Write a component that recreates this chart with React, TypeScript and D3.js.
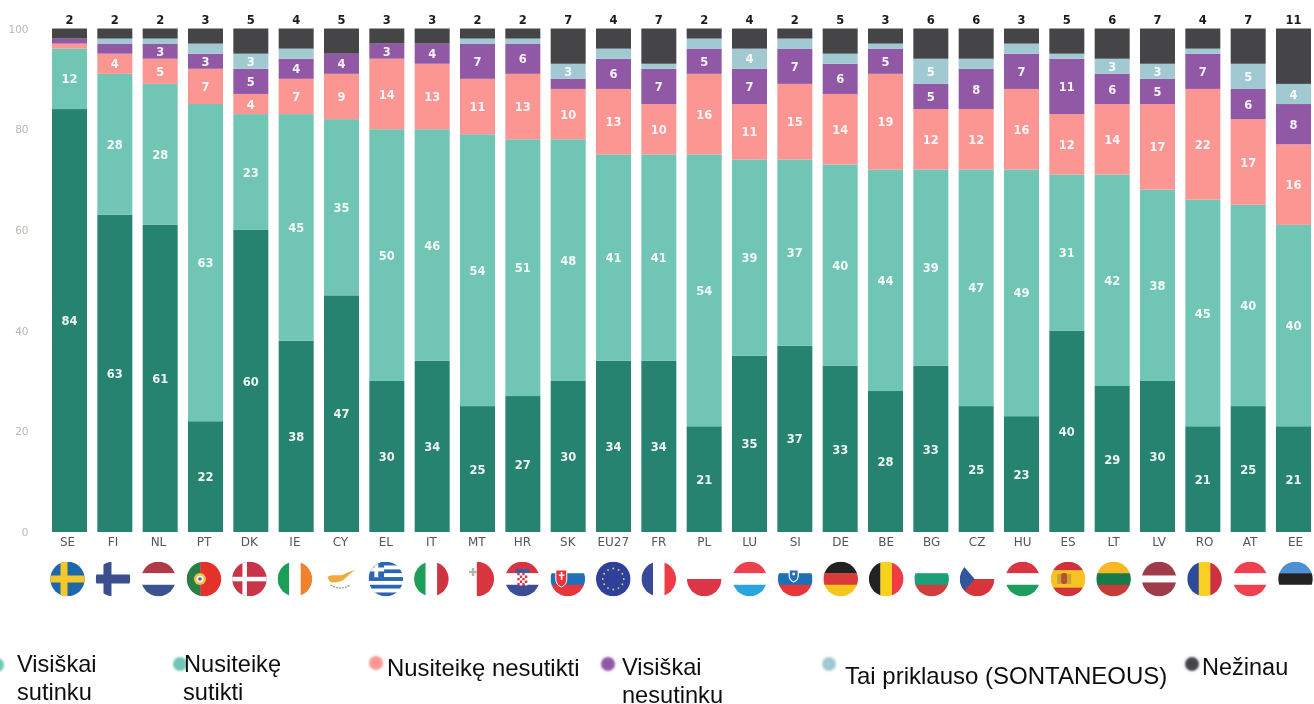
import React from "react";
import * as d3 from "d3";

const countries = ["SE","FI","NL","PT","DK","IE","CY","EL","IT","MT","HR","SK","EU27","FR","PL","LU","SI","DE","BE","BG","CZ","HU","ES","LT","LV","RO","AT","EE"];
const totallyAgree = [84,63,61,22,60,38,47,30,34,25,27,30,34,34,21,35,37,33,28,33,25,23,40,29,30,21,25,21];
const tendAgree = [12,28,28,63,23,45,35,50,46,54,51,48,41,41,54,39,37,40,44,39,47,49,31,42,38,45,40,40];
const tendDisagree = [1,4,5,7,4,7,9,14,13,11,13,10,13,10,16,11,15,14,19,12,12,16,12,14,17,22,17,16];
const totallyDisagree = [1,2,3,3,5,4,4,3,4,7,6,2,6,7,5,7,7,6,5,5,8,7,11,6,5,7,6,8];
const notApplicable = [0,1,1,2,3,2,0,0,0,1,1,3,2,1,2,4,2,2,1,5,2,2,1,3,3,1,5,4];
const dontKnow = [2,2,2,3,5,4,5,3,3,2,2,7,4,7,2,4,2,5,3,6,6,3,5,6,7,4,7,11];
const yTicks = [0,20,40,60,80,100];

const seriesKeys = ["a","b","c","d","e","f"];
const seriesValues: number[][] = [totallyAgree,tendAgree,tendDisagree,totallyDisagree,notApplicable,dontKnow];
const colors = ["#26836f","#70c5b5","#fb9693","#9159a5","#a1c9d2","#454447"];

const rows = countries.map((c,i)=>{
  const r: any = {c};
  seriesKeys.forEach((k,j)=>{ r[k]=seriesValues[j][i]; });
  return r;
});
const stacked = d3.stack<any>().keys(seriesKeys)(rows);

const x = d3.scaleBand<string>().domain(countries).range([52,1311]).paddingInner(0.228);
const y = d3.scaleLinear().domain([0,100]).range([532,28.5]);
// Category labels and flags sit on a slightly wider spread than the bars.
const xFlag = d3.scalePoint<string>().domain(countries).range([67.5,1295.5]);

const CHART_FONT = "'DejaVu Sans', sans-serif";
const LEGEND_FONT = "'Liberation Sans', Arial, sans-serif";

type Stripe = [string, number];
const hFlags: Record<string, Stripe[]> = {
  NL:[["#ae3b48",1],["#fff",1],["#3d5390",1]],
  HR:[["#d8343f",1],["#fff",1],["#3a4d94",1]],
  SK:[["#fff",1],["#2270b8",1],["#e8363a",1]],
  PL:[["#fff",1],["#dc3545",1]],
  LU:[["#ef4050",1],["#fff",1],["#2aa5df",1]],
  SI:[["#fff",1],["#1f6fb5",1],["#e8363a",1]],
  DE:[["#222222",1],["#d93a3a",1],["#f5c71f",1]],
  BG:[["#fff",1],["#1f9e78",1],["#d03c3c",1]],
  HU:[["#d8343f",1],["#fff",1],["#1f9e5e",1]],
  ES:[["#cf3138",1],["#f7c221",2],["#cf3138",1]],
  LT:[["#f7b824",1],["#157a4b",1],["#c93a3a",1]],
  LV:[["#a03a48",2],["#fff",1],["#a03a48",2]],
  AT:[["#ef4050",1],["#fff",1],["#ef4050",1]],
  EE:[["#4f8fd4",1],["#222222",1],["#fff",1]],
  EL:[["#2a66b4",1],["#fff",1],["#2a66b4",1],["#fff",1],["#2a66b4",1],["#fff",1],["#2a66b4",1],["#fff",1],["#2a66b4",1]],
};
const vFlags: Record<string, Stripe[]> = {
  IE:[["#1f9e56",1],["#fff",1],["#f0822d",1]],
  IT:[["#1f9e56",1],["#fff",1],["#cf3341",1]],
  FR:[["#3a4a9a",1],["#fff",1],["#ee3b44",1]],
  BE:[["#222222",1],["#f7d21f",1],["#ee3b44",1]],
  RO:[["#2f4a9a",1],["#fbd021",1],["#ce3340",1]],
  MT:[["#fff",1],["#d8343f",1]],
  PT:[["#2a7d47",2],["#e4312b",3]],
};

function Flag({code, cx, cy, r}: {code:string; cx:number; cy:number; r:number}) {
  const id = `clip-${code}`;
  const d = 2*r;
  const parts: React.ReactNode[] = [];
  if (hFlags[code]) {
    const st = hFlags[code];
    const sc = d3.scaleLinear().domain([0,d3.sum(st,s=>s[1])]).range([cy-r,cy+r]);
    let acc = 0;
    st.forEach(([col,w],i)=>{
      parts.push(<rect key={i} x={cx-r} y={sc(acc)} width={d} height={sc(acc+w)-sc(acc)+0.3} fill={col}/>);
      acc += w;
    });
  }
  if (vFlags[code]) {
    const st = vFlags[code];
    const sc = d3.scaleLinear().domain([0,d3.sum(st,s=>s[1])]).range([cx-r,cx+r]);
    let acc = 0;
    st.forEach(([col,w],i)=>{
      parts.push(<rect key={i} x={sc(acc)} y={cy-r} width={sc(acc+w)-sc(acc)+0.3} height={d} fill={col}/>);
      acc += w;
    });
  }
  const extra: React.ReactNode[] = [];
  if (code==="SE") {
    parts.push(<rect key="b" x={cx-r} y={cy-r} width={d} height={d} fill="#1f68a8"/>);
    parts.push(<rect key="v" x={cx-7} y={cy-r} width={7} height={d} fill="#f5c72b"/>);
    parts.push(<rect key="h" x={cx-r} y={cy-3.5} width={d} height={7} fill="#f5c72b"/>);
  }
  if (code==="FI") {
    parts.push(<rect key="v" x={cx-9.5} y={cy-r} width={8} height={d} fill="#3a4f8f"/>);
    parts.push(<rect key="h" x={cx-r} y={cy-4.5} width={d} height={9} fill="#3a4f8f"/>);
  }
  if (code==="DK") {
    parts.push(<rect key="b" x={cx-r} y={cy-r} width={d} height={d} fill="#c8344a"/>);
    parts.push(<rect key="v" x={cx-7} y={cy-r} width={4.5} height={d} fill="#fff"/>);
    parts.push(<rect key="h" x={cx-r} y={cy-2.2} width={d} height={4.5} fill="#fff"/>);
  }
  if (code==="EU27") {
    parts.push(<rect key="b" x={cx-r} y={cy-r} width={d} height={d} fill="#2f3f9b"/>);
    d3.range(12).forEach(i=>{
      const a = i/12*2*Math.PI;
      extra.push(<circle key={i} cx={cx+10.5*Math.cos(a)} cy={cy+10.5*Math.sin(a)} r={0.9} fill="#e8d44a"/>);
    });
  }
  if (code==="CZ") {
    parts.push(<rect key="r" x={cx-r} y={cy} width={d} height={r} fill="#d8343a"/>);
    parts.push(<path key="t" d={`M${cx-r},${cy-r}L${cx-2.5},${cy}L${cx-r},${cy+r}Z`} fill="#2f579c"/>);
  }
  if (code==="CY") {
    extra.push(<path key="i" d={`M${cx-13},${cy-2}C${cx-8},${cy-5} ${cx-2},${cy-3} ${cx+2},${cy-4}C${cx+6},${cy-6} ${cx+10},${cy-8} ${cx+15},${cy-9}C${cx+10},${cy-6} ${cx+7},${cy-3} ${cx+3},${cy+1}C${cx-1},${cy+3} ${cx-8},${cy+5} ${cx-11},${cy+2}Z`} fill="#f2a93b"/>);
    extra.push(<path key="g" d={`M${cx-10},${cy+6}Q${cx},${cy+12} ${cx+10},${cy+6}`} fill="none" stroke="#8aa888" strokeWidth={1.4} strokeDasharray="2 1"/>);
  }
  if (code==="EL") {
    extra.push(<rect key="c" x={cx-r} y={cy-r} width={15.5} height={15.5} fill="#2a66b4"/>);
    extra.push(<rect key="c1" x={cx-r+5.8} y={cy-r} width={3.9} height={15.5} fill="#fff"/>);
    extra.push(<rect key="c2" x={cx-r} y={cy-r+5.8} width={15.5} height={3.9} fill="#fff"/>);
  }
  if (code==="PT") {
    extra.push(<circle key="s1" cx={cx-4} cy={cy} r={6} fill="#eec341"/>);
    extra.push(<circle key="s2" cx={cx-4} cy={cy} r={3.5} fill="#f4f1e6"/>);
    extra.push(<circle key="s3" cx={cx-4} cy={cy} r={1.8} fill="#4a62a8"/>);
  }
  if (code==="MT") {
    extra.push(<rect key="m1" x={cx-5} y={cy-11} width={2.4} height={8} fill="#b9b3b3"/>);
    extra.push(<rect key="m2" x={cx-7.8} y={cy-8.2} width={8} height={2.4} fill="#b9b3b3"/>);
  }
  if (code==="HR") {
    const g: React.ReactNode[] = [];
    d3.range(5).forEach(i=>d3.range(4).forEach(j=>{
      g.push(<rect key={`${i}-${j}`} x={cx-5+j*2.5} y={cy-6+i*2.5} width={2.5} height={2.5} fill={(i+j)%2? "#fff":"#d8343f"}/>);
    }));
    extra.push(<g key="chk"><rect x={cx-7} y={cy-10} width={14} height={4} fill="#3a5aa8"/>{g}</g>);
  }
  if (code==="SK") {
    extra.push(<path key="s" d={`M${cx-12},${cy-9}h11v9q0,6 -5.5,8q-5.5,-2 -5.5,-8Z`} fill="#e8363a" stroke="#fff" strokeWidth={1}/>);
    extra.push(<rect key="sa" x={cx-7} y={cy-7} width={1.6} height={8} fill="#fff"/>);
    extra.push(<rect key="sb" x={cx-9} y={cy-4.5} width={5.6} height={1.5} fill="#fff"/>);
  }
  if (code==="SI") {
    extra.push(<path key="s" d={`M${cx-6},${cy-9}h9v6q0,4 -4.5,6q-4.5,-2 -4.5,-6Z`} fill="#2270b8" stroke="#fff" strokeWidth={1.2}/>);
    extra.push(<circle key="s2" cx={cx-1.5} cy={cy-5} r={1.4} fill="#fff"/>);
  }
  if (code==="ES") {
    extra.push(<rect key="e1" x={cx-11} y={cy-5} width={4} height={10} fill="#c9a433"/>);
    extra.push(<rect key="e2" x={cx-7} y={cy-6} width={6} height={11} rx={2} fill="#b8502f"/>);
    extra.push(<rect key="e3" x={cx-1} y={cy-5} width={4} height={10} fill="#c9a433"/>);
  }
  return (
    <g>
      <clipPath id={id}><circle cx={cx} cy={cy} r={r}/></clipPath>
      <g clipPath={`url(#${id})`}>{parts}{extra}</g>
    </g>
  );
}

const legendDots: [number,number,string][] = [
  [-3,665,colors[1]],[180,664,colors[1]],[376,663,colors[2]],[608,664,colors[3]],[829,664,colors[4]],[1192,664,colors[5]],
];
const legendText: [string,number,number,number][] = [
  ["Visiškai",17,672,23.6],["sutinku",17,700,23.6],
  ["Nusiteikę",184,672,23.6],["sutikti",183,700,23.6],
  ["Nusiteikę nesutikti",387,676,23.9],
  ["Visiškai",622,675,23.6],["nesutinku",622,703,23.6],
  ["Tai priklauso (SONTANEOUS)",845,684,24],
  ["Nežinau",1202,675,23.5],
];

export default function App() {
  return (
    <svg width={1314} height={704} viewBox="0 0 1314 704" style={{position:"absolute",left:0,top:0,background:"#fff",display:"block"}}>
      <defs>
        <filter id="soft" x="-2%" y="-2%" width="104%" height="104%"><feGaussianBlur stdDeviation="0.45"/></filter>
        <filter id="dot" x="-50%" y="-50%" width="200%" height="200%"><feGaussianBlur stdDeviation="1.2"/></filter>
      </defs>
      <g filter="url(#soft)">
        {stacked.map((s,si)=>s.map((d,i)=>(
          <rect key={`${si}-${i}`} x={x(countries[i])} y={y(d[1])} width={x.bandwidth()} height={y(d[0])-y(d[1])} fill={colors[si]}/>
        )))}
        {stacked.slice(0,5).map((s,si)=>s.map((d,i)=>{
          const v = d[1]-d[0];
          if (v<3) return null;
          return <text key={`${si}-${i}`} x={x(countries[i])!+x.bandwidth()/2} y={y((d[0]+d[1])/2)+4.6} textAnchor="middle"
            fontFamily={CHART_FONT} fontWeight={700} fontSize={11.5} fill="#fff" fillOpacity={0.92}>{v}</text>;
        }))}
        {countries.map((c,i)=>(
          <text key={c} x={x(c)!+x.bandwidth()/2} y={24} textAnchor="middle" fontFamily={CHART_FONT} fontWeight={700} fontSize={11.5} fill="#1a1a1a">{dontKnow[i]}</text>
        ))}
        {yTicks.map(t=>(
          <text key={t} x={28.5} y={y(t)+4} textAnchor="end" fontFamily={CHART_FONT} fontSize={10.5} fill="#bdb8b0">{t}</text>
        ))}
        {countries.map(c=>(
          <text key={c} x={xFlag(c)!} y={546} textAnchor="middle" fontFamily={CHART_FONT} fontSize={12} fill="#555">{c}</text>
        ))}
        {countries.map(c=>(
          <Flag key={c} code={c} cx={xFlag(c)!} cy={579} r={17.3}/>
        ))}
      </g>
      {legendDots.map(([cx,cy,col],i)=>(
        <circle key={i} cx={cx} cy={cy} r={7} fill={col} filter="url(#dot)"/>
      ))}
      <g filter="url(#soft)">
        {legendText.map(([t,lx,ly,fs],i)=>(
          <text key={i} x={lx} y={ly} fontFamily={LEGEND_FONT} fontSize={fs} fill="#111">{t}</text>
        ))}
      </g>
    </svg>
  );
}
